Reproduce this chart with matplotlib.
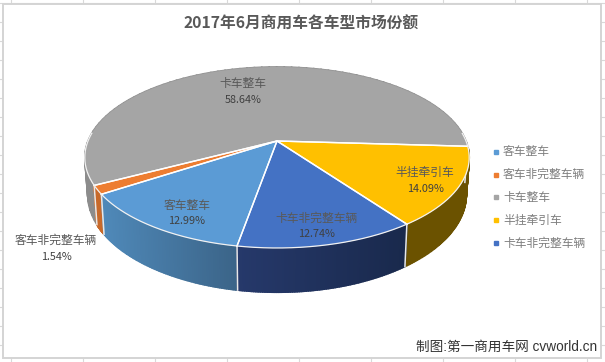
# -*- coding: utf-8 -*-
import numpy as np
import matplotlib
matplotlib.use('Agg')
import matplotlib.pyplot as plt
from matplotlib.patches import Rectangle

plt.rcParams['font.family'] = ['Noto Sans CJK SC', 'DejaVu Sans']

# dados
categorias = ['客车整车', '客车非完整车辆', '卡车整车', '半挂牵引车', '卡车非完整车辆']
valores = [12.99, 1.54, 58.64, 14.09, 12.74]
rotulos = ['12.99%', '1.54%', '58.64%', '14.09%', '12.74%']
cores = ['#5b9bd5', '#ed7d31', '#a5a5a5', '#ffc000', '#4472c4']
cor_lado_esq = ['#4f89b9', '#c8692a', '#8c8c8c', '#6b5200', '#26396b']
cor_lado_dir = ['#3b6488', '#c8692a', '#8c8c8c', '#6b5200', '#19294c']
pos_rotulos = [(187, 214), (56, 249), (243, 92.5), (425, 181), (316, 226.5)]

W, H = 605, 362
cx, cy = 277, 141      # vertice da pizza
rx, a, k = 189, 87.5, 0.182
inicio = -100          # angulo do primeiro setor, sentido horario


def topo(t):
    # projeta o circulo com perspectiva
    X, Y = np.cos(t), np.sin(t)
    return cx + rx * X / (1 + k * Y), cy - a * Y / (1 + k * Y)


def base(t):
    x, y = topo(t)
    return cx + (x - cx) * 0.985, 176.7 + (y - cy) * 1.08


fig = plt.figure(figsize=(W / 100, H / 100), dpi=100)
ax = fig.add_axes([0, 0, 1, 1])
ax.set_xlim(0, W)
ax.set_ylim(H, 0)
ax.axis('off')

# grade da planilha em volta do grafico
for x in range(11, W, 72):
    ax.plot([x, x], [0, H], color='#d9d9d9', lw=0.8, zorder=0)
for y in range(2, H, 19):
    ax.plot([0, W], [y + 0.5, y + 0.5], color='#d9d9d9', lw=0.8, zorder=0)
ax.add_patch(Rectangle((2.5, 3.5), 598.5, 354.5, fc='white', ec='#d4d4d4', lw=1.4, zorder=1))

fracoes = np.cumsum([0] + valores) / sum(valores)
limites = np.radians(inicio - 360 * fracoes)

# paredes laterais, de tras para frente
for i in [2, 3, 1, 0, 4]:
    t = np.linspace(limites[i], limites[i + 1], 80)
    xt, yt = topo(t)
    xb, yb = base(t)
    c0 = np.array(matplotlib.colors.to_rgb(cor_lado_esq[i]))
    c1 = np.array(matplotlib.colors.to_rgb(cor_lado_dir[i]))
    for j in range(len(t) - 1):
        s = (xt[j] - xt.min()) / max(xt.max() - xt.min(), 1)
        ax.fill([xt[j], xt[j + 1], xb[j + 1], xb[j]], [yt[j], yt[j + 1], yb[j + 1], yb[j]],
                facecolor=c0 + (c1 - c0) * s, edgecolor=c0 + (c1 - c0) * s, lw=1.2, zorder=2)

# linhas brancas entre as paredes
for lim in limites[:-1]:
    if np.sin(lim) < 0:
        x0, y0 = topo(lim)
        x1, y1 = base(lim)
        ax.plot([x0, x1], [y0, y1], color='#e8e8e8', lw=1.1, zorder=3)

# face de cima
for i in range(len(valores)):
    t = np.linspace(limites[i], limites[i + 1], 200)
    xt, yt = topo(t)
    ax.fill(np.r_[cx, xt], np.r_[cy, yt], facecolor=cores[i], edgecolor=cores[i], lw=0.3, zorder=4)
    # contorno branco so nos raios e na frente
    ax.plot([xt[0], cx, xt[-1]], [yt[0], cy, yt[-1]], color='white', lw=1.0, zorder=5)
    frente = np.sin(t) < 0.1
    ax.plot(np.where(frente, xt, np.nan), np.where(frente, yt, np.nan), color='#f2f2f2', lw=0.9, zorder=5)

ax.text(301, 24, '2017年6月商用车各车型市场份额', fontsize=11.3, fontweight='bold', color='#595959',
        ha='center', va='center', zorder=6)

for i in range(len(categorias)):
    x, y = pos_rotulos[i]
    ax.text(x, y - 8.5, categorias[i], fontsize=8.5, color='#595959', ha='center', va='center', zorder=6)
    ax.text(x, y + 7.5, rotulos[i], fontsize=7.8, color='#404040', ha='center', va='center', zorder=6)

# legenda
for i in range(len(categorias)):
    y = 152 + i * 22.7
    ax.plot(496, y, 's', ms=2.6, color=cores[i], zorder=6)
    ax.text(503, y, categorias[i], fontsize=8.5, color='#7f7f7f', ha='left', va='center', zorder=6)

ax.text(597, 347, '制图:第一商用车网 cvworld.cn', fontsize=9.8, color='#333333',
        family=['Liberation Sans', 'Noto Sans CJK SC'], ha='right', va='center', zorder=6)

fig.savefig('out.png', dpi=100)
